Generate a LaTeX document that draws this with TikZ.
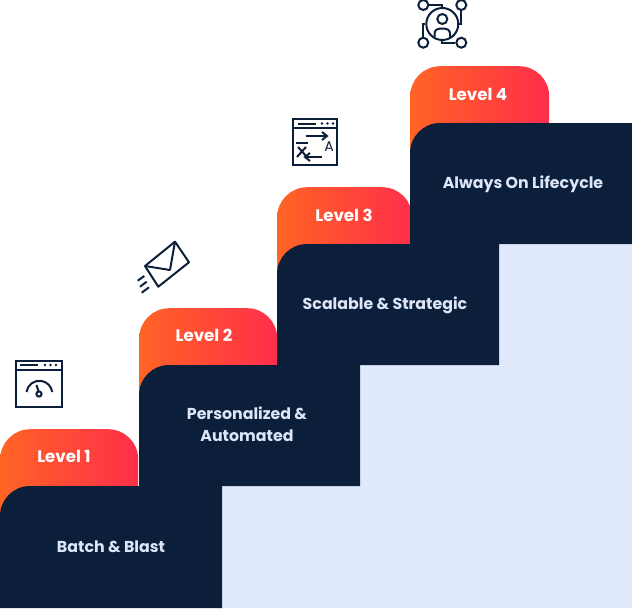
\documentclass[tikz,border=0pt]{standalone}
\usepackage{xcolor}
\usepackage{fontspec}
\setmainfont{Poppins}
\usepackage{tikz}
\usetikzlibrary{positioning}
\definecolor{navy}{HTML}{0C1F3A}
\definecolor{paleblue}{HTML}{E0EAFC}
\definecolor{palelabel}{HTML}{DCE6F8}
\definecolor{hotorange}{HTML}{FF6425}
\definecolor{hotred}{HTML}{FF2E4A}

\begin{document}
\begin{tikzpicture}[
    x=1pt, y=-1pt,
    levelbox/.style={rounded corners=30pt, minimum height=120pt, inner sep=0pt,
        left color=hotorange, right color=hotred, anchor=north west},
    stairbox/.style={fill=navy},
    levellbl/.style={font=\fontsize{16.6}{18}\selectfont\bfseries, color=white, inner sep=0pt},
    stairlbl/.style={font=\fontsize{15.8}{22}\selectfont\bfseries, color=palelabel,
        align=center, inner sep=0pt},
    iconline/.style={draw=navy, line width=2pt, fill=none},
    icondots/.style={draw=navy, line width=2.6pt, line cap=round, dash pattern=on 0pt off 5.5pt},
    icondot/.style={circle, draw=navy, line width=2pt, inner sep=0pt, minimum size=10pt},
]
\useasboundingbox (0,0) rectangle (632,608);

% Pale area under the stairs
\fill[paleblue] (222,486) -- (360,486) -- (360,365) -- (499,365) -- (499,244)
    -- (632,244) -- (632,608) -- (222,608) -- cycle;

% Orange tabs
\node[levelbox, minimum width=138pt] (tab1) at (0,429) {};
\node[levelbox, minimum width=138pt] (tab2) at (139,308) {};
\node[levelbox, minimum width=135pt] (tab3) at (277,187) {};
\node[levelbox, minimum width=139pt] (tab4) at (410,66) {};

% Dark steps
\fill[stairbox] (0,608) [rounded corners=30pt] -- (0,486) [sharp corners] -- (222,486) -- (222,608) -- cycle;
\fill[stairbox] (139,486) [rounded corners=30pt] -- (139,365) [sharp corners] -- (360,365) -- (360,486) -- cycle;
\fill[stairbox] (277,365) [rounded corners=30pt] -- (277,244) [sharp corners] -- (499,244) -- (499,365) -- cycle;
\fill[stairbox] (410,244) [rounded corners=30pt] -- (410,123) [sharp corners] -- (632,123) -- (632,244) -- cycle;

% Labels
\node[levellbl] (level1) at (64,456) {Level 1};
\node[levellbl] (level2) at (204,335) {Level 2};
\node[levellbl] (level3) at (344,215) {Level 3};
\node[levellbl] (level4) at (478,94) {Level 4};
\node[stairlbl] (batch) at (111,547) {Batch \& Blast};
\node[stairlbl] (personal) at (247,424.5) {Personalized \&\\Automated};
\node[stairlbl] (scalable) at (385,305) {Scalable \& Strategic};
\node[stairlbl] (always) at (523,184) {Always On Lifecycle};

% Gauge window
\draw[iconline] (15.5,360.5) rectangle (62,407);
\draw[iconline] (15.5,369.5) -- (62,369.5);
\draw[iconline] (20,365) -- (38,365);
\draw[icondots] (45,365) -- (57,365);
\draw[iconline] (26.5,392) arc (180+8:360-8:13);
\draw[iconline] (36.5,385) -- (38.4,391);
\draw[iconline] (39,394) circle (2.6);

% Envelope
\draw[iconline, line join=round] (175,241.7) -- (189,262.3) -- (158.3,286.7) -- (145,266) -- cycle;
\draw[iconline, line join=round] (145,266) -- (170,270) -- (175,241.7);
\draw[iconline] (137.7,280.7) -- (144.3,276);
\draw[iconline] (140,286.7) -- (146.7,281.7);
\draw[iconline] (141.7,292.7) -- (149,287.3);

% Translate window
\draw[iconline] (293,119) rectangle (337,165);
\draw[iconline] (293,128) -- (337,128);
\draw[iconline] (298,123.5) -- (316,123.5);
\draw[icondots] (322,123.5) -- (334,123.5);
\draw[iconline] (306,136) -- (326,136);
\draw[iconline, line join=miter] (322,132) -- (327,136) -- (322,140);
\draw[iconline] (306,157) -- (322,157);
\draw[iconline, line join=miter] (310,153) -- (305,157) -- (310,161);
\draw[iconline] (296,143) -- (308,143);
\draw[iconline] (298,147) -- (307,157);
\draw[iconline] (306,147) -- (297,157);
\node[font=\fontsize{14}{14}\selectfont, color=navy, inner sep=0pt] (letter) at (329,147) {A};

% Person network
\node[icondot, minimum size=32pt] (ring) at (442.3,24) {};
\node[icondot] (head) at (442.3,19) {};
\node[icondot] (dotnw) at (423.3,5) {};
\node[icondot] (dotne) at (461.3,5) {};
\node[icondot] (dotsw) at (423.3,42.7) {};
\node[icondot] (dotse) at (461.3,42.7) {};
\draw[iconline] (dotnw) -| (ring.north);
\draw[iconline] (dotne.south) |- (ring.east);
\draw[iconline] (dotsw.north) |- (ring.west);
\draw[iconline] (dotse) -| (ring.south);
\draw[iconline] (434.5,37) -- (434.5,34) .. controls (434.5,30) and (437,28.5) .. (442.3,28.5)
    .. controls (447.6,28.5) and (450,30) .. (450,34) -- (450,37);
\end{tikzpicture}
\end{document}
